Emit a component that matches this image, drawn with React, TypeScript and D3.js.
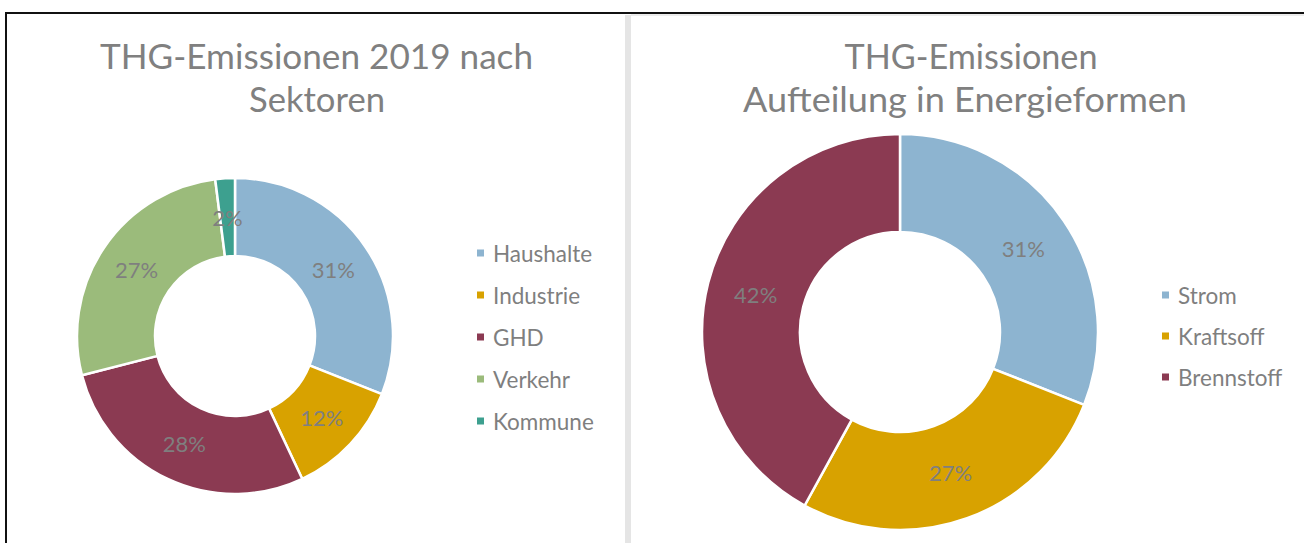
import React from "react";
import * as d3 from "d3";

const sectorCats = ["Haushalte", "Industrie", "GHD", "Verkehr", "Kommune"];
const sectorVals = [31, 12, 28, 27, 2];
const sectorColors = ["#8DB4D0", "#D8A200", "#8B3A52", "#9BBB7B", "#3DA08F"];

const energyCats = ["Strom", "Kraftsoff", "Brennstoff"];
const energyVals = [31, 27, 42];
const energyColors = ["#8DB4D0", "#D8A200", "#8B3A52"];

const FONT = "Lato, 'Open Sans', sans-serif";
const GREY = "#7f7f7f";

type DonutProps = {
  cats: string[];
  vals: number[];
  colors: string[];
  cx: number;
  cy: number;
  outer: number;
  inner: number;
};

function Donut({ cats, vals, colors, cx, cy, outer, inner }: DonutProps) {
  const pie = d3.pie<number>().sort(null).value((d) => d);
  const arcs = pie(vals);
  const arc = d3.arc<d3.PieArcDatum<number>>().innerRadius(inner).outerRadius(outer);
  const total = d3.sum(vals);
  return (
    <g transform={`translate(${cx},${cy})`}>
      {arcs.map((a, i) => (
        <path key={cats[i]} d={arc(a) || ""} fill={colors[i]} stroke="#fff" strokeWidth={2.5} />
      ))}
      {arcs.map((a, i) => {
        const [x, y] = arc.centroid(a);
        return (
          <text
            key={"l" + cats[i]}
            x={x}
            y={y}
            textAnchor="middle"
            dominantBaseline="central"
            fontFamily={FONT}
            fontSize={22}
            fill={GREY}
          >
            {Math.round((vals[i] / total) * 100)}%
          </text>
        );
      })}
    </g>
  );
}

function Legend({ cats, colors, x, y, step }: { cats: string[]; colors: string[]; x: number; y: number; step: number }) {
  return (
    <g>
      {cats.map((c, i) => (
        <g key={c} transform={`translate(${x},${y + i * step})`}>
          <rect x={0} y={-3.5} width={7} height={7} fill={colors[i]} />
          <text x={16} y={0} dominantBaseline="central" fontFamily={FONT} fontSize={22.5} fill={GREY}>
            {c}
          </text>
        </g>
      ))}
    </g>
  );
}

function Title({ x, y, text, len }: { x: number; y: number; text: string; len: number }) {
  return (
    <text
      x={x}
      y={y}
      textAnchor="middle"
      fontFamily={FONT}
      fontSize={34}
      fill="#808080"
      textLength={len}
      lengthAdjust="spacingAndGlyphs"
    >
      {text}
    </text>
  );
}

export default function App() {
  const W = 1304;
  const H = 543;
  return (
    <svg
      width={W}
      height={H}
      style={{ position: "absolute", left: 0, top: 0, background: "#fff" }}
    >
      <rect x={0} y={0} width={W} height={H} fill="#fff" />
      <rect x={631} y={14} width={W - 631} height={2} fill="#ececec" />
      <rect x={625} y={15} width={6} height={H - 15} fill="#e5e5e5" />
      <rect x={5} y={12} width={W - 5} height={2} fill="#111" />
      <rect x={5} y={12} width={2} height={H - 12} fill="#111" />

      {/* Left chart */}
      <Title x={316.5} y={69} text="THG-Emissionen 2019 nach" len={433} />
      <Title x={317} y={112} text="Sektoren" len={136} />
      <Donut cats={sectorCats} vals={sectorVals} colors={sectorColors} cx={235} cy={336} outer={158} inner={80} />
      <Legend cats={sectorCats} colors={sectorColors} x={477} y={253} step={42} />

      {/* Right chart */}
      <Title x={971} y={69} text="THG-Emissionen" len={253} />
      <Title x={965} y={112} text="Aufteilung in Energieformen" len={444} />
      <Donut cats={energyCats} vals={energyVals} colors={energyColors} cx={900} cy={332} outer={198} inner={100} />
      <Legend cats={energyCats} colors={energyColors} x={1162} y={295} step={41} />
    </svg>
  );
}
